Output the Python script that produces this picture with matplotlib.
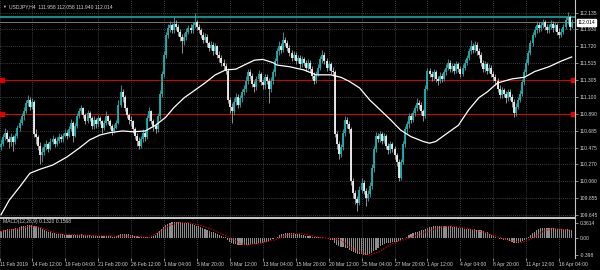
"""USDJPY H4 candlestick chart with moving average and MACD sub-window."""

import matplotlib

matplotlib.use("Agg")
import matplotlib.pyplot as plt
import numpy as np

plt.rcParams["font.family"] = ["Liberation Sans", "DejaVu Sans"]

SYMBOL_HEADER = "USDJPY,H4  111.958 112.058 111.940 112.014"
MACD_HEADER = "MACD(12,26,9) 0.1320 0.1568"

# --- price data, one value per H4 bar ---
first_open = 110.48
closes = [
    110.52, 110.60, 110.66, 110.58, 110.54, 110.60, 110.55, 110.62, 110.72, 110.78,
    110.86, 110.92, 111.02, 111.06, 110.98, 111.04, 110.64, 110.60, 110.50, 110.38,
    110.42, 110.48, 110.52, 110.46, 110.55, 110.58, 110.52, 110.56, 110.60, 110.58,
    110.62, 110.66, 110.62, 110.70, 110.78, 110.62, 110.74, 110.86, 110.92, 110.96,
    110.88, 110.80, 110.90, 110.84, 110.74, 110.82, 110.76, 110.84, 110.80, 110.72,
    110.78, 110.86, 110.80, 110.74, 110.68, 110.72, 110.78, 111.00, 111.16, 111.10,
    110.96, 110.88, 110.82, 110.80, 110.70, 110.62, 110.56, 110.50, 110.58, 110.66,
    110.60, 110.84, 110.92, 110.80, 110.74, 110.70, 110.86, 111.14, 111.38, 111.62,
    111.86, 111.94, 111.98, 111.92, 112.00, 111.96, 111.90, 111.84, 111.78, 111.84,
    111.90, 111.94, 111.92, 111.98, 112.02, 111.96, 111.92, 111.86, 111.80, 111.84,
    111.76, 111.70, 111.74, 111.66, 111.72, 111.62, 111.58, 111.52, 111.48, 111.42,
    111.06, 110.98, 110.92, 111.04, 111.10, 111.00, 111.08, 111.16, 111.20, 111.30,
    111.40, 111.36, 111.26, 111.22, 111.32, 111.38, 111.28, 111.24, 111.34, 111.30,
    111.20, 111.30, 111.40, 111.54, 111.66, 111.72, 111.68, 111.80, 111.76, 111.70,
    111.64, 111.58, 111.62, 111.54, 111.58, 111.50, 111.56, 111.52, 111.46, 111.52,
    111.44, 111.36, 111.30, 111.38, 111.46, 111.56, 111.62, 111.54, 111.46, 111.50,
    111.42, 111.40, 110.64, 110.52, 110.40, 110.48, 110.66, 110.82, 110.76, 110.70,
    110.06, 109.92, 109.84, 109.80, 109.96, 110.04, 109.94, 109.86, 109.90, 110.00,
    110.22, 110.46, 110.62, 110.58, 110.64, 110.56, 110.62, 110.50, 110.44, 110.52,
    110.46, 110.38, 110.30, 110.10, 110.30, 110.52, 110.70, 110.76, 110.86, 110.82,
    110.90, 110.96, 111.02, 111.00, 110.92, 110.86, 111.20, 111.42, 111.38, 111.34,
    111.40, 111.32, 111.30, 111.36, 111.32, 111.40, 111.46, 111.52, 111.44, 111.48,
    111.42, 111.50, 111.44, 111.38, 111.46, 111.52, 111.58, 111.66, 111.72, 111.68,
    111.74, 111.66, 111.62, 111.52, 111.44, 111.50, 111.42, 111.46, 111.38, 111.34,
    111.30, 111.20, 111.12, 111.18, 111.14, 111.08, 111.16, 111.10, 111.04, 110.90,
    110.98, 111.06, 111.14, 111.28, 111.40, 111.52, 111.64, 111.76, 111.86, 111.92,
    111.98, 111.94, 111.98, 112.02, 111.96, 111.92, 111.96, 112.00, 111.94, 111.98,
    111.90, 111.86, 111.90, 111.96, 112.04, 112.08, 111.958, 112.014,
]
highs = [
    110.58, 110.64, 110.72, 110.69, 110.62, 110.65, 110.63, 110.66, 110.75, 110.83,
    110.90, 110.97, 111.06, 111.12, 111.10, 111.09, 111.06, 110.70, 110.63, 110.54,
    110.48, 110.53, 110.57, 110.55, 110.59, 110.63, 110.60, 110.60, 110.65, 110.64,
    110.66, 110.71, 110.69, 110.74, 110.83, 110.80, 110.78, 110.90, 110.96, 111.00,
    110.98, 110.90, 110.94, 110.92, 110.86, 110.86, 110.84, 110.88, 110.87, 110.82,
    110.82, 110.92, 110.88, 110.83, 110.77, 110.76, 110.82, 111.06, 111.24, 111.20,
    111.12, 110.98, 110.90, 110.86, 110.82, 110.73, 110.65, 110.60, 110.62, 110.70,
    110.69, 110.88, 110.98, 110.94, 110.83, 110.78, 110.90, 111.18, 111.42, 111.66,
    111.90, 111.99, 112.03, 112.01, 112.08, 112.04, 111.99, 111.93, 111.87, 111.88,
    111.94, 111.98, 111.99, 112.02, 112.13, 112.05, 112.00, 111.95, 111.90, 111.88,
    111.87, 111.79, 111.78, 111.77, 111.76, 111.74, 111.66, 111.62, 111.56, 111.52,
    111.46, 111.10, 111.02, 111.08, 111.15, 111.13, 111.12, 111.20, 111.25, 111.35,
    111.44, 111.44, 111.39, 111.30, 111.36, 111.43, 111.41, 111.32, 111.38, 111.38,
    111.33, 111.34, 111.44, 111.58, 111.70, 111.78, 111.76, 111.90, 111.84, 111.80,
    111.74, 111.68, 111.66, 111.65, 111.62, 111.61, 111.60, 111.59, 111.55, 111.56,
    111.55, 111.48, 111.40, 111.42, 111.50, 111.60, 111.67, 111.65, 111.58, 111.54,
    111.53, 111.47, 111.43, 110.68, 110.56, 110.52, 110.70, 110.86, 110.85, 110.80,
    110.73, 110.10, 109.96, 109.88, 110.00, 110.10, 110.08, 109.98, 109.95, 110.05,
    110.27, 110.50, 110.67, 110.66, 110.68, 110.67, 110.66, 110.64, 110.53, 110.56,
    110.55, 110.49, 110.41, 110.33, 110.34, 110.56, 110.74, 110.80, 110.90, 110.90,
    110.94, 111.00, 111.08, 111.06, 111.03, 110.95, 111.24, 111.46, 111.46, 111.42,
    111.44, 111.43, 111.36, 111.40, 111.39, 111.44, 111.50, 111.56, 111.55, 111.52,
    111.51, 111.54, 111.53, 111.48, 111.50, 111.56, 111.62, 111.70, 111.80, 111.76,
    111.78, 111.77, 111.70, 111.65, 111.55, 111.54, 111.53, 111.50, 111.49, 111.42,
    111.38, 111.33, 111.24, 111.22, 111.21, 111.17, 111.20, 111.19, 111.13, 111.07,
    111.02, 111.10, 111.18, 111.32, 111.44, 111.56, 111.68, 111.80, 111.90, 111.97,
    112.03, 112.02, 112.02, 112.06, 112.05, 112.00, 112.00, 112.04, 112.03, 112.02,
    112.01, 111.94, 111.94, 112.00, 112.08, 112.14, 112.10, 112.058,
]
lows = [
    110.44, 110.49, 110.57, 110.54, 110.47, 110.50, 110.43, 110.52, 110.59, 110.68,
    110.75, 110.82, 110.90, 110.99, 110.94, 110.95, 110.60, 110.52, 110.44, 110.27,
    110.30, 110.38, 110.45, 110.42, 110.44, 110.52, 110.48, 110.49, 110.53, 110.54,
    110.55, 110.60, 110.58, 110.60, 110.68, 110.55, 110.60, 110.72, 110.84, 110.89,
    110.84, 110.76, 110.78, 110.80, 110.70, 110.71, 110.72, 110.73, 110.76, 110.66,
    110.69, 110.75, 110.76, 110.70, 110.63, 110.65, 110.70, 110.76, 110.98, 111.04,
    110.92, 110.84, 110.77, 110.74, 110.66, 110.58, 110.50, 110.46, 110.47, 110.55,
    110.56, 110.58, 110.80, 110.76, 110.68, 110.65, 110.67, 110.83, 111.10, 111.34,
    111.58, 111.82, 111.90, 111.88, 111.89, 111.92, 111.85, 111.78, 111.64, 111.74,
    111.80, 111.87, 111.88, 111.89, 111.95, 111.92, 111.88, 111.82, 111.76, 111.77,
    111.71, 111.66, 111.67, 111.62, 111.63, 111.58, 111.53, 111.48, 111.43, 111.38,
    111.02, 110.90, 110.78, 110.88, 111.00, 110.96, 110.97, 111.04, 111.12, 111.16,
    111.26, 111.32, 111.22, 111.16, 111.18, 111.28, 111.24, 111.19, 111.20, 111.26,
    111.02, 111.16, 111.26, 111.36, 111.50, 111.62, 111.64, 111.65, 111.72, 111.66,
    111.60, 111.54, 111.55, 111.50, 111.51, 111.46, 111.47, 111.48, 111.42, 111.43,
    111.40, 111.32, 111.26, 111.27, 111.35, 111.43, 111.52, 111.50, 111.42, 111.43,
    111.38, 111.35, 110.60, 110.46, 110.34, 110.36, 110.45, 110.62, 110.72, 110.66,
    110.02, 109.86, 109.78, 109.70, 109.77, 109.92, 109.90, 109.76, 109.82, 109.87,
    109.97, 110.18, 110.42, 110.54, 110.55, 110.52, 110.53, 110.46, 110.40, 110.41,
    110.42, 110.33, 110.25, 110.06, 110.08, 110.27, 110.48, 110.66, 110.72, 110.78,
    110.79, 110.87, 110.93, 110.95, 110.88, 110.80, 110.84, 111.18, 111.34, 111.30,
    111.31, 111.28, 111.25, 111.27, 111.28, 111.30, 111.37, 111.43, 111.40, 111.41,
    111.38, 111.39, 111.40, 111.34, 111.35, 111.43, 111.49, 111.55, 111.63, 111.64,
    111.65, 111.62, 111.58, 111.48, 111.40, 111.41, 111.38, 111.39, 111.34, 111.30,
    111.24, 111.16, 111.08, 111.09, 111.10, 111.02, 111.05, 111.06, 110.98, 110.85,
    110.87, 110.95, 111.03, 111.11, 111.25, 111.37, 111.49, 111.61, 111.73, 111.83,
    111.89, 111.90, 111.91, 111.95, 111.92, 111.88, 111.89, 111.93, 111.90, 111.91,
    111.86, 111.82, 111.83, 111.87, 111.93, 112.00, 111.92, 111.94,
]

# moving average (white line), sampled at these bars
ma_bars = [0, 4, 9, 14, 19, 25, 32, 38, 43, 48, 53, 59, 64, 70, 75, 80, 84, 89,
           94, 99, 104, 109, 114, 118, 123, 127, 132, 134, 140, 147, 153, 160,
           165, 169, 174, 179, 184, 189, 194, 199, 205, 208, 211, 217, 222, 227,
           232, 236, 241, 248, 254, 259, 266, 272, 277]
ma_values = [109.65, 109.83, 109.99, 110.16, 110.21, 110.26, 110.36, 110.47,
             110.57, 110.63, 110.66, 110.68, 110.67, 110.68, 110.75, 110.85,
             110.97, 111.09, 111.18, 111.27, 111.37, 111.43, 111.44, 111.49,
             111.55, 111.56, 111.52, 111.49, 111.47, 111.43, 111.37, 111.37,
             111.34, 111.29, 111.21, 111.06, 110.94, 110.82, 110.69, 110.61,
             110.55, 110.53, 110.55, 110.66, 110.75, 110.94, 111.09, 111.16,
             111.27, 111.32, 111.34, 111.41, 111.47, 111.54, 111.59]

# MACD main (histogram), one per bar
macd_main = [
    0.18, 0.19, 0.20, 0.21, 0.21, 0.22, 0.23, 0.24, 0.25, 0.27,
    0.28, 0.29, 0.30, 0.31, 0.31, 0.31, 0.30, 0.28, 0.26, 0.24,
    0.22, 0.20, 0.18, 0.16, 0.14, 0.13, 0.12, 0.11, 0.10, 0.09,
    0.09, 0.08, 0.08, 0.08, 0.08, 0.07, 0.07, 0.08, 0.08, 0.09,
    0.08, 0.08, 0.07, 0.07, 0.06, 0.06, 0.06, 0.05, 0.05, 0.05,
    0.05, 0.05, 0.05, 0.05, 0.04, 0.04, 0.05, 0.07, 0.09, 0.10,
    0.10, 0.10, 0.09, 0.08, 0.07, 0.06, 0.05, 0.04, 0.03, 0.03,
    0.02, 0.03, 0.04, 0.05, 0.06, 0.08, 0.12, 0.17, 0.22, 0.27,
    0.31, 0.34, 0.36, 0.38, 0.39, 0.39, 0.39, 0.38, 0.37, 0.36,
    0.36, 0.35, 0.34, 0.33, 0.31, 0.30, 0.28, 0.26, 0.24, 0.22,
    0.20, 0.18, 0.16, 0.14, 0.12, 0.10, 0.08, 0.06, 0.04, 0.02,
    -0.04, -0.08, -0.12, -0.13, -0.14, -0.15, -0.16, -0.16, -0.16, -0.15,
    -0.15, -0.14, -0.14, -0.13, -0.13, -0.12, -0.11, -0.10, -0.09, -0.08,
    -0.06, -0.04, -0.02, 0.01, 0.04, 0.07, 0.09, 0.11, 0.12, 0.13,
    0.13, 0.13, 0.12, 0.11, 0.10, 0.09, 0.08, 0.07, 0.06, 0.05,
    0.05, 0.04, 0.03, 0.03, 0.02, 0.02, 0.02, 0.01, 0.00, -0.01,
    -0.03, -0.04, -0.10, -0.15, -0.18, -0.20, -0.21, -0.22, -0.24, -0.28,
    -0.31, -0.33, -0.35, -0.36, -0.37, -0.38, -0.39, -0.39, -0.39, -0.38,
    -0.35, -0.31, -0.27, -0.22, -0.18, -0.15, -0.13, -0.12, -0.11, -0.10,
    -0.09, -0.09, -0.08, -0.07, -0.05, -0.02, 0.01, 0.04, 0.07, 0.10,
    0.12, 0.14, 0.16, 0.18, 0.19, 0.20, 0.22, 0.24, 0.26, 0.27,
    0.28, 0.29, 0.29, 0.29, 0.29, 0.28, 0.28, 0.28, 0.28, 0.27,
    0.27, 0.26, 0.25, 0.24, 0.24, 0.23, 0.23, 0.22, 0.22, 0.21,
    0.21, 0.20, 0.20, 0.19, 0.18, 0.16, 0.14, 0.11, 0.08, 0.05,
    0.03, 0.01, -0.01, -0.02, -0.03, -0.04, -0.05, -0.06, -0.08, -0.10,
    -0.10, -0.10, -0.09, -0.07, -0.04, -0.01, 0.03, 0.07, 0.12, 0.16,
    0.19, 0.22, 0.24, 0.25, 0.25, 0.25, 0.24, 0.24, 0.24, 0.23,
    0.23, 0.22, 0.22, 0.21, 0.21, 0.21, 0.20, 0.20,
]
signal_bars = [0, 10, 14, 19, 24, 29, 38, 48, 58, 68, 72, 77, 82, 87, 92, 97,
               103, 110, 116, 119, 126, 132, 139, 145, 155, 165, 169, 176, 179,
               184, 190, 200, 207, 213, 218, 226, 236, 246, 253, 258, 263, 268,
               274, 277]
signal_values = [0.16, 0.24, 0.29, 0.26, 0.16, 0.10, 0.08, 0.06, 0.05, 0.04,
                 0.02, 0.16, 0.31, 0.38, 0.36, 0.30, 0.20, 0.04, -0.12, -0.16,
                 -0.12, -0.05, 0.08, 0.12, 0.02, -0.04, -0.20, -0.35, -0.40,
                 -0.31, -0.12, 0.04, 0.16, 0.26, 0.29, 0.24, 0.12, -0.04, -0.10,
                 0.00, 0.16, 0.24, 0.20, 0.19]

price_levels = [112.135, 111.930, 111.720, 111.515, 111.305, 111.100, 110.890,
                110.685, 110.475, 110.270, 110.060, 109.855, 109.645]
price_labels = ["112.135", "111.930", "111.720", "111.515", "111.305", "111.100",
                "110.890", "110.685", "110.475", "110.270", "110.060", "109.855",
                "109.645"]
macd_levels = [0.3614, 0.0, -0.398]
macd_labels = ["0.3614", "0.00", "-0.398"]

date_bars = [-0.4, 15, 31, 47, 63, 79, 95, 111, 127, 143, 159, 175, 191, 207,
             223, 239, 255, 271]
date_labels = ["11 Feb 2019", "14 Feb 12:00", "19 Feb 04:00", "21 Feb 20:00",
               "26 Feb 12:00", "1 Mar 04:00", "5 Mar 20:00", "8 Mar 12:00",
               "13 Mar 04:00", "15 Mar 20:00", "20 Mar 12:00", "25 Mar 04:00",
               "27 Mar 20:00", "1 Apr 12:00", "4 Apr 04:00", "8 Apr 20:00",
               "11 Apr 12:00", "16 Apr 04:00"]

resistance_level = 112.08
bid_price = 112.014
support_levels = [111.305, 110.890]

# colours
BG = "black"
TEXT = "#d2d2d2"
GRID = "#5b656b"
BULL = "#14b4b4"
BEAR = "#f2f2f2"
AXIS = "#c4c4c4"


def draw_candles(ax, opens, highs, lows, closes):
    """Draw thin MT4-style candles: wick plus body on one bar column."""
    idx = np.arange(len(closes))
    up = closes >= opens
    colors = np.where(up, BULL, BEAR)
    hi = np.maximum(highs, np.maximum(opens, closes))
    lo = np.minimum(lows, np.minimum(opens, closes))
    ax.vlines(idx, lo, hi, colors=np.where(up, "#4f9e9e", "#a8a8a8"), linewidth=0.6)
    ax.vlines(idx, np.minimum(opens, closes), np.maximum(opens, closes),
              colors=colors, linewidth=1.3)


def style_axis(ax, levels, labels):
    ax.set_facecolor(BG)
    for side in ("left", "top", "bottom"):
        ax.spines[side].set_visible(False)
    ax.spines["right"].set_color(AXIS)
    ax.spines["right"].set_linewidth(0.8)
    ax.yaxis.tick_right()
    ax.set_yticks(levels, labels)
    ax.tick_params(axis="y", length=2, width=0.5, color=AXIS, labelsize=3.6,
                   labelcolor=TEXT, pad=1.2)


closes = np.array(closes)
opens = np.r_[first_open, closes[:-1]]
n_bars = len(closes)

fig = plt.figure(figsize=(6, 2.7), dpi=100, facecolor=BG)
ax = fig.add_axes([0, 52 / 270, 575 / 600, 218 / 270])
ax_m = fig.add_axes([0, 12 / 270, 575 / 600, 39 / 270], sharex=ax)

# main price window
style_axis(ax, price_levels, price_labels)
ax.set_ylim(109.61, 112.29)
ax.set_xlim(-0.49, 278.6)
ax.grid(True, color=GRID, linestyle=(0, (1.2, 1.8)), linewidth=0.5)
ax.spines["bottom"].set_visible(True)
ax.spines["bottom"].set_color(AXIS)
ax.spines["bottom"].set_linewidth(1.5)
ax.tick_params(axis="x", length=0, labelbottom=False)

ax.axhline(resistance_level, color="#178a8a", linewidth=1.5)
ax.axhline(bid_price, color="#8c8c8c", linewidth=0.6)
for level in support_levels:
    ax.axhline(level, color="#e00000", linewidth=0.7)
    ax.plot([0.003, 0.997], [level, level], "s", color="#e00000", ms=2.2,
            transform=ax.get_yaxis_transform(), clip_on=False)

draw_candles(ax, opens, np.array(highs), np.array(lows), closes)
ax.plot(ma_bars, ma_values, color="white", linewidth=0.9)

ax.text(1.004, bid_price, f"{bid_price:.3f}", transform=ax.get_yaxis_transform(),
        fontsize=3.6, color="black", va="center", ha="left",
        bbox=dict(boxstyle="square,pad=0.15", fc="white", ec="white"))

# MACD window
style_axis(ax_m, macd_levels, macd_labels)
ax_m.set_ylim(-0.466, 0.456)
ax_m.grid(True, axis="x", color=GRID, linestyle=(0, (1.2, 1.8)), linewidth=0.5)
ax_m.bar(np.arange(n_bars), macd_main, width=0.55, color="#8e8e8e", linewidth=0)
ax_m.plot(signal_bars, signal_values, color="#e00000", linewidth=0.8,
          linestyle=(0, (1.2, 1.2)))
ax_m.set_xticks(date_bars, date_labels)
ax_m.tick_params(axis="x", length=2, width=0.5, color=AXIS, labelsize=3.6,
                 labelcolor=TEXT, pad=1)
for label in ax_m.get_xticklabels():
    label.set_horizontalalignment("left")

# window headers
fig.text(2 / 600, 1 - 7 / 270, "\u25bc", fontsize=2.8, color=TEXT, va="center")
fig.text(9 / 600, 1 - 7 / 270, SYMBOL_HEADER, fontsize=3.6, color=TEXT, va="center")
fig.text(3 / 600, 1 - 222 / 270, MACD_HEADER, fontsize=3.6, color=TEXT, va="center")

fig.savefig("out.png", dpi=100, facecolor=BG)
